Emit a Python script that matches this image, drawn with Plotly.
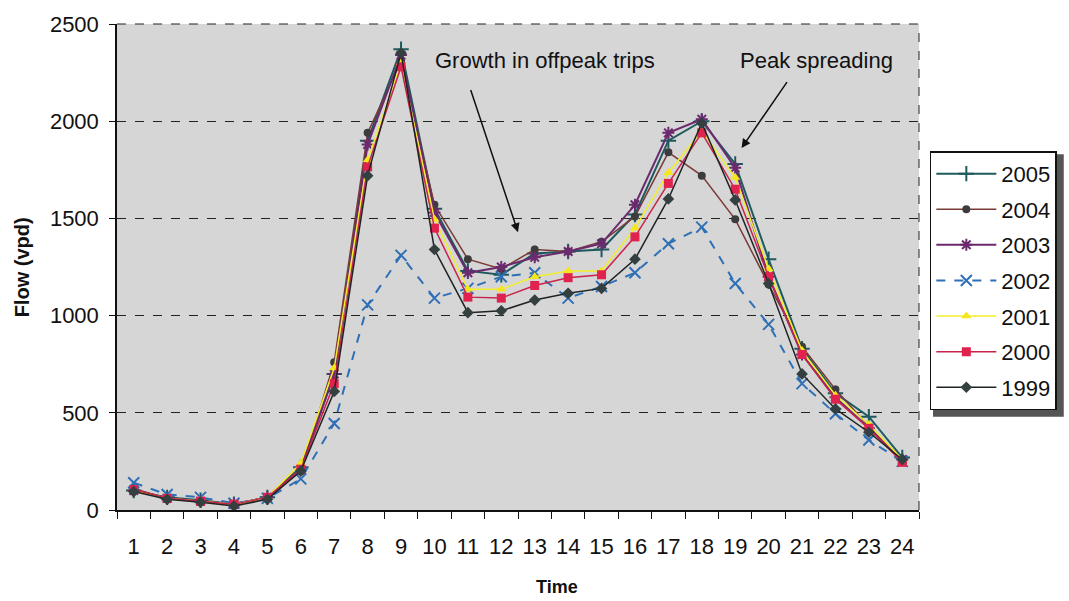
import plotly.graph_objects as go

hours = list(range(1, 25))

flow_2005 = [100, 65, 50, 30, 65, 220, 700, 1900, 2370, 1550, 1230, 1210, 1320, 1330, 1340, 1520, 1900, 2000, 1780, 1290, 830, 600, 480, 270]
flow_2004 = [110, 60, 45, 30, 65, 200, 760, 1940, 2310, 1570, 1290, 1240, 1340, 1330, 1380, 1510, 1840, 1720, 1495, 1160, 840, 620, 430, 260]
flow_2003 = [100, 60, 45, 30, 65, 210, 700, 1880, 2340, 1530, 1220, 1250, 1300, 1330, 1370, 1570, 1940, 2010, 1760, 1200, 800, 580, 420, 260]
flow_2002 = [140, 80, 65, 35, 60, 160, 445, 1055, 1310, 1090, 1140, 1200, 1220, 1090, 1150, 1220, 1370, 1455, 1165, 955, 650, 495, 360, 250]
flow_2001 = [100, 60, 45, 30, 65, 240, 730, 1800, 2300, 1495, 1135, 1135, 1200, 1230, 1230, 1450, 1735, 1950, 1710, 1240, 820, 590, 440, 260]
flow_2000 = [105, 60, 45, 30, 65, 210, 650, 1765, 2280, 1450, 1095, 1090, 1155, 1195, 1210, 1405, 1680, 1940, 1650, 1200, 800, 570, 420, 245]
flow_1999 = [95, 55, 40, 20, 55, 200, 610, 1720, 2350, 1340, 1015, 1025, 1080, 1115, 1140, 1290, 1600, 1990, 1595, 1165, 700, 520, 400, 260]

y_ticks = [0, 500, 1000, 1500, 2000, 2500]

FONT = "Arial, Liberation Sans, sans-serif"
TXT = 22

series = [
    ("2005", flow_2005, dict(color="#1d5a5e", width=2), dict(symbol="cross-thin-open", size=11, color="#1d5a5e", line=dict(width=2, color="#1d5a5e"))),
    ("2004", flow_2004, dict(color="#7a3a36", width=1.5), dict(symbol="circle", size=8, color="#3c3c3c")),
    ("2003", flow_2003, dict(color="#6b2a6e", width=2), dict(symbol="asterisk-open", size=10, color="#6b2a6e", line=dict(width=2, color="#6b2a6e"))),
    ("2002", flow_2002, dict(color="#2e6fb5", width=2, dash="dash"), dict(symbol="x-thin-open", size=11, color="#2e6fb5", line=dict(width=2, color="#2e6fb5"))),
    ("2001", flow_2001, dict(color="#f2ee2a", width=1.5), dict(symbol="triangle-up", size=9, color="#f5e51c")),
    ("2000", flow_2000, dict(color="#c8234a", width=1.5), dict(symbol="square", size=9, color="#e0224e")),
    ("1999", flow_1999, dict(color="#1e2424", width=1.5), dict(symbol="diamond", size=9, color="#344040")),
]

fig = go.Figure()
for name, vals, line, marker in series:
    fig.add_trace(go.Scatter(
        x=hours, y=vals, name=name, mode="lines+markers",
        line=line, marker=marker, legendgroup=name,
    ))

fig.update_layout(
    width=1069, height=601,
    margin=dict(l=117, r=149, t=20, b=91),
    paper_bgcolor="white",
    plot_bgcolor="#d6d6d6",
    font=dict(family=FONT, size=TXT, color="#111"),
    showlegend=True,
    legend=dict(
        x=1.0135, y=0.738, xanchor="left", yanchor="top",
        bgcolor="white", bordercolor="#111", borderwidth=1.5,
        font=dict(size=TXT, family=FONT, color="#111"),
        traceorder="grouped", tracegroupgap=4,
        itemwidth=60,
    ),
)

fig.update_xaxes(
    range=[0.5, 24.5],
    tickvals=hours, ticktext=[str(h) for h in hours],
    ticks="", showgrid=False, zeroline=False,
    showline=True, linecolor="#111", linewidth=1.5,
    ticklabelstandoff=16,
    minor=dict(tickvals=[h + 0.5 for h in range(0, 25)], ticks="outside", ticklen=7, tickcolor="#111", tickwidth=1.2, showgrid=False),
    tickfont=dict(size=TXT),
    mirror=False,
)
fig.update_yaxes(
    range=[0, 2500],
    tickvals=y_ticks,
    ticks="outside", ticklen=6, tickcolor="#111",
    showgrid=True, gridcolor="#222", griddash="dash", gridwidth=1,
    zeroline=False,
    showline=True, linecolor="#111", linewidth=1.5,
    tickfont=dict(size=TXT),
    ticklabelstandoff=6,
)

# dashed frame along the top and right of the plot area
fig.add_shape(type="line", xref="paper", yref="paper", x0=0, x1=1, y0=1, y1=1,
              line=dict(color="#222", width=1, dash="dash"))
fig.add_shape(type="line", xref="paper", yref="paper", x0=1, x1=1, y0=0, y1=1,
              line=dict(color="#222", width=1, dash="dash"))

# legend drop shadow
fig.add_shape(type="rect", xref="paper", yref="paper",
              x0=1.0175, x1=1.1805, y0=0.192, y1=0.732,
              fillcolor="#555", line=dict(width=0), layer="below")

# axis titles
fig.add_annotation(text="<b>Flow (vpd)</b>", xref="paper", yref="paper",
                   x=-0.118, y=0.5, xanchor="center", yanchor="middle",
                   textangle=-90, showarrow=False,
                   font=dict(size=20, family=FONT, color="#111"))
fig.add_annotation(text="<b>Time</b>", xref="paper", yref="paper",
                   x=0.549, y=-0.159, xanchor="center", yanchor="middle",
                   showarrow=False,
                   font=dict(size=18, family=FONT, color="#111"))

# call-outs
fig.add_annotation(text="Growth in offpeak trips", x=9.97, y=2311, xanchor="left",
                   showarrow=False, font=dict(size=TXT, family=FONT, color="#111"))
fig.add_annotation(text="Peak spreading", x=19.07, y=2311, xanchor="left",
                   showarrow=False, font=dict(size=TXT, family=FONT, color="#111"))
fig.add_annotation(x=12.5, y=1429, ax=11.07, ay=2168, axref="x", ayref="y",
                   text="", showarrow=True, arrowhead=2, arrowsize=1.2,
                   arrowwidth=1.5, arrowcolor="#111")
fig.add_annotation(x=19.19, y=1862, ax=20.58, ay=2209, axref="x", ayref="y",
                   text="", showarrow=True, arrowhead=2, arrowsize=1.2,
                   arrowwidth=1.5, arrowcolor="#111")

fig.write_html("out.html")
